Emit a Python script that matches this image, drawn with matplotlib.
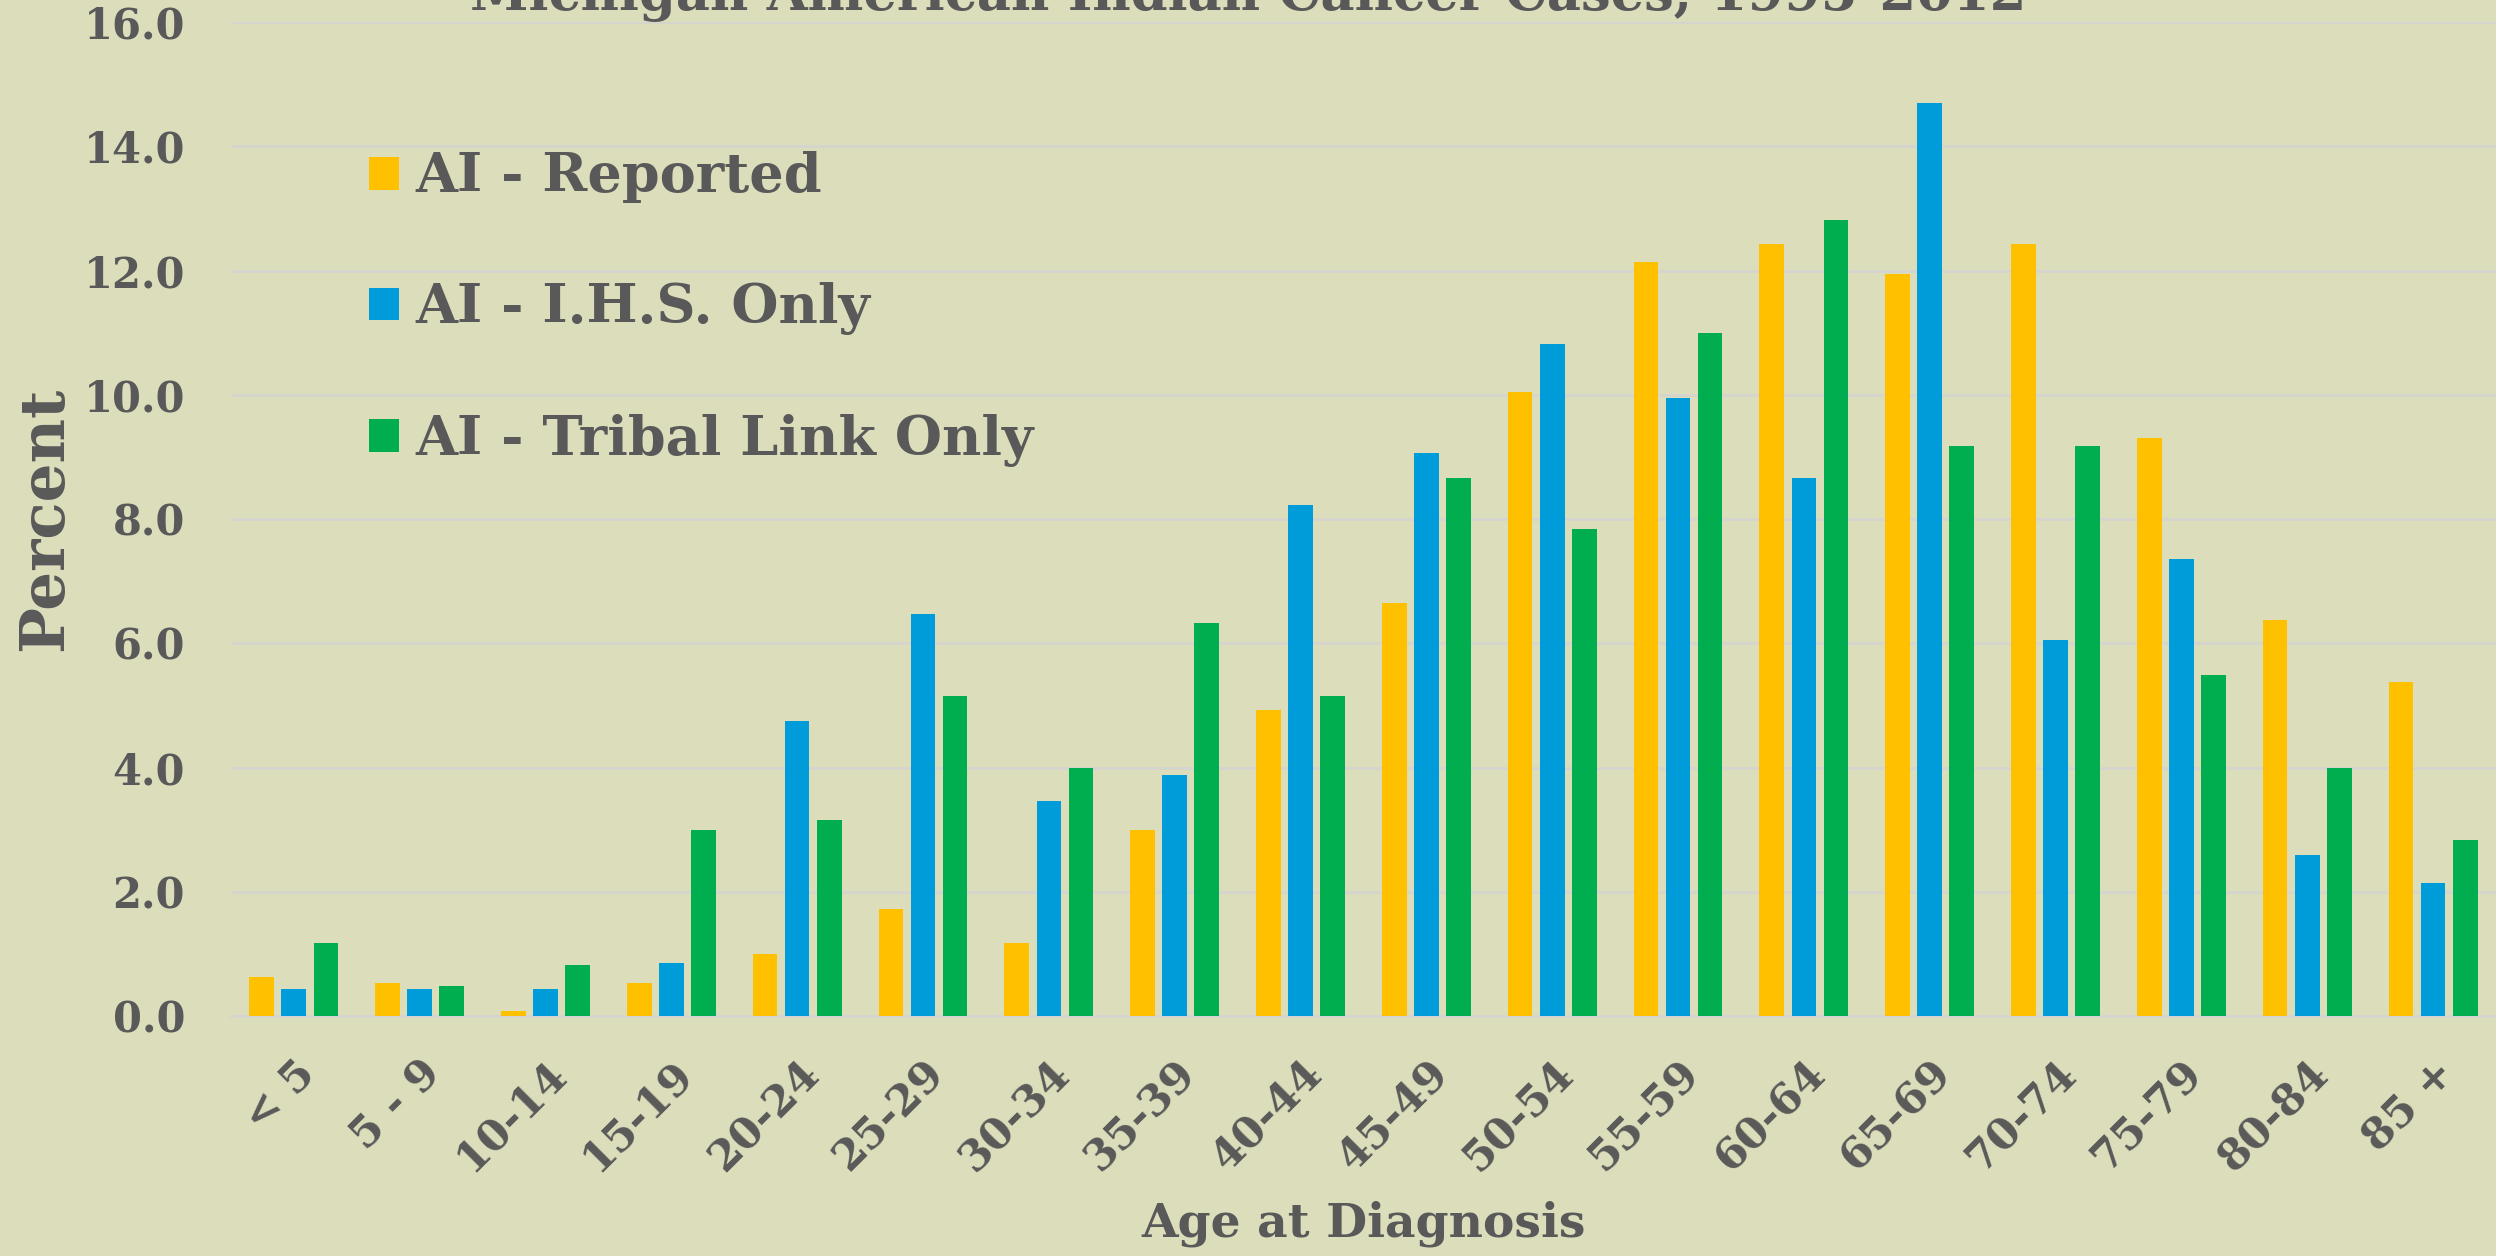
import numpy as np
import matplotlib
matplotlib.use("Agg")
import matplotlib.pyplot as plt
from matplotlib.patches import Patch

# age groups and percent of cases per source
age_groups = ["< 5", "5 - 9", "10-14", "15-19", "20-24", "25-29", "30-34", "35-39",
              "40-44", "45-49", "50-54", "55-59", "60-64", "65-69", "70-74", "75-79",
              "80-84", "85 +"]
ai_reported = [0.63, 0.54, 0.09, 0.54, 1.0, 1.72, 1.18, 3.0, 4.92, 6.65,
               10.05, 12.13, 12.42, 11.95, 12.42, 9.3, 6.37, 5.37]
ai_ihs_only = [0.43, 0.43, 0.43, 0.86, 4.75, 6.47, 3.46, 3.88, 8.22, 9.07,
               10.82, 9.95, 8.66, 14.69, 6.05, 7.35, 2.59, 2.15]
ai_tribal_only = [1.17, 0.49, 0.83, 3.0, 3.16, 5.15, 3.99, 6.32, 5.15, 8.66,
                  7.84, 11.0, 12.82, 9.18, 9.18, 5.49, 3.99, 2.83]

series_names = ["AI - Reported", "AI - I.H.S. Only", "AI - Tribal Link Only"]
colors = ["#FFC000", "#009CDA", "#00AE4F"]
bg = "#DCDDBB"
text_col = "#595959"
grid_col = "#D5D5CF"
font = "DejaVu Serif"

fig = plt.figure(figsize=(24.96, 12.56), dpi=100, facecolor=bg)
ax = fig.add_axes([0.0925, 0.191, 0.9075, 0.7915])
ax.set_facecolor(bg)

x = np.arange(len(age_groups))
offset = 0.255
width = 0.196
for i, (vals, c) in enumerate(zip([ai_reported, ai_ihs_only, ai_tribal_only], colors)):
    ax.bar(x + (i - 1) * offset, vals, width=width, color=c, zorder=3)

ax.set_xlim(-0.5, len(age_groups) - 0.5)
ax.set_ylim(0, 16)
ax.set_yticks(np.arange(0, 17, 2))
ax.set_yticklabels([f"{v:.1f}" for v in np.arange(0, 17, 2)],
                   fontsize=30, fontweight="bold", color=text_col, family=font)
ax.yaxis.grid(True, color=grid_col, linewidth=2, zorder=0)
ax.set_axisbelow(True)
ax.tick_params(axis="y", length=0, pad=33)
ax.tick_params(axis="x", length=0, pad=26)

ax.set_xticks(x)
ax.set_xticklabels(age_groups, rotation=45, ha="right", rotation_mode="anchor",
                   fontsize=31, fontweight="bold", color=text_col, family=font)

for s in ["top", "right", "left"]:
    ax.spines[s].set_visible(False)
ax.spines["bottom"].set_color(grid_col)
ax.spines["bottom"].set_linewidth(2)

ax.set_ylabel("Percent", fontsize=44, fontweight="bold", color=text_col,
              family=font, labelpad=6)
ax.set_xlabel("Age at Diagnosis", fontsize=34, fontweight="bold", color=text_col,
              family=font)
ax.xaxis.set_label_coords(0.5, -0.222)
ax.xaxis.label.set_va("baseline")
fig.text(0.5, 0.992, "Michigan American Indian Cancer Cases, 1995-2012", fontsize=38,
         fontweight="bold", color=text_col, family=font, ha="center", va="baseline")

handles = [Patch(facecolor=c, edgecolor="none") for c in colors]
leg = ax.legend(handles, series_names, loc="upper left", bbox_to_anchor=(0.049, 0.897),
                frameon=False, prop={"family": font, "weight": "bold", "size": 39},
                handlelength=0.55, handleheight=0.55, handletextpad=0.3,
                labelspacing=1.45, borderpad=0)
for t in leg.get_texts():
    t.set_color(text_col)

fig.savefig("out.png", dpi=100, facecolor=bg)
